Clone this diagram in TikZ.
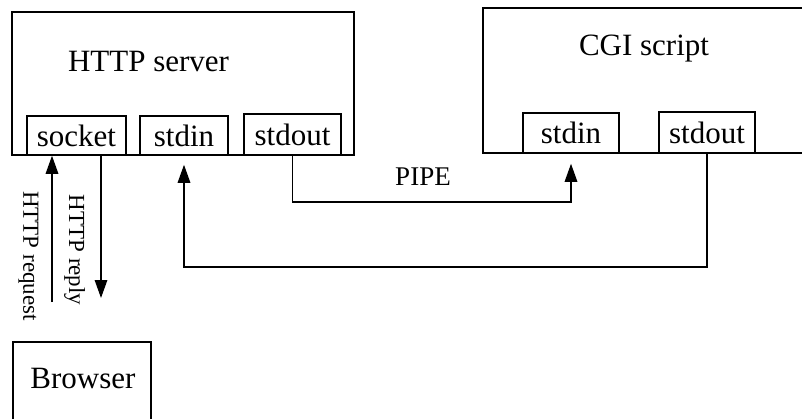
\documentclass[tikz,border=0pt]{standalone}
\usepackage{fontspec}
\setmainfont{Liberation Serif}
\usetikzlibrary{arrows.meta,calc}

\begin{document}
\begin{tikzpicture}[x=1pt, y=-1pt, line width=1.5pt,
		box/.style={draw, rectangle, inner sep=0pt},
		big/.style={font=\fontsize{31}{31}\selectfont, inner sep=0pt},
		side/.style={font=\fontsize{23}{23}\selectfont, inner sep=0pt, rotate=-90},
		arr/.style={-{Triangle[length=18pt,width=12.5pt]}}]
		\clip (0,0) rectangle (802,418);
		% HTTP server with socket, stdin and stdout
		\node[box, minimum width=342pt, minimum height=143pt] (srv) at (183,83.5) {};
		\node[big, anchor=base] (srvlbl) at (148.5,71) {HTTP server};
		\node[box, big, minimum width=99pt, minimum height=39pt] (sock) at (76.5,135.5) {socket};
		\node[box, big, minimum width=88pt, minimum height=39pt] (srvin) at (184,135.5) {stdin};
		\node[box, big, minimum width=97pt, minimum height=41pt] (srvout) at (292.5,134.5) {stdout};
		% CGI script, open on the right
		\node[box, minimum width=347pt, minimum height=145pt] (cgi) at (656.5,80.5) {};
		\node[big, anchor=base] (cgilbl) at (644,55) {CGI script};
		\node[box, big, minimum width=96pt, minimum height=40pt] (cgiin) at (571,133) {stdin};
		\node[box, big, minimum width=96pt, minimum height=41pt] (cgiout) at (707,132.5) {stdout};
		% browser
		\node[box, minimum width=138pt, minimum height=98pt] (brw) at (82,391) {};
		\node[big, anchor=base] (brwlbl) at (83,388) {Browser};
		% request and reply
		\coordinate (req) at (52,302);
		\coordinate (rep) at (101,298);
		\draw[arr] (req) -- (req |- sock.south);
		\draw[arr] (rep |- sock.south) -- (rep);
		\node[side] (reqlbl) at (28.5,256) {HTTP request};
		\node[side] (replbl) at (74.5,250) {HTTP reply};
		% pipe and return line
		\coordinate (pipelow) at (0,202);
		\coordinate (retlow) at (0,267);
		\draw[arr, shorten >=10pt] (srvout.south) |- (cgiin.south |- pipelow) -- (cgiin.south);
		\node[font=\fontsize{27}{27}\selectfont, inner sep=0pt] (pipelbl) at (423,177) {PIPE};
		\draw[arr, shorten >=9pt] (cgiout.south) |- (srvin.south |- retlow) -- (srvin.south);
	\end{tikzpicture}
\end{document}
